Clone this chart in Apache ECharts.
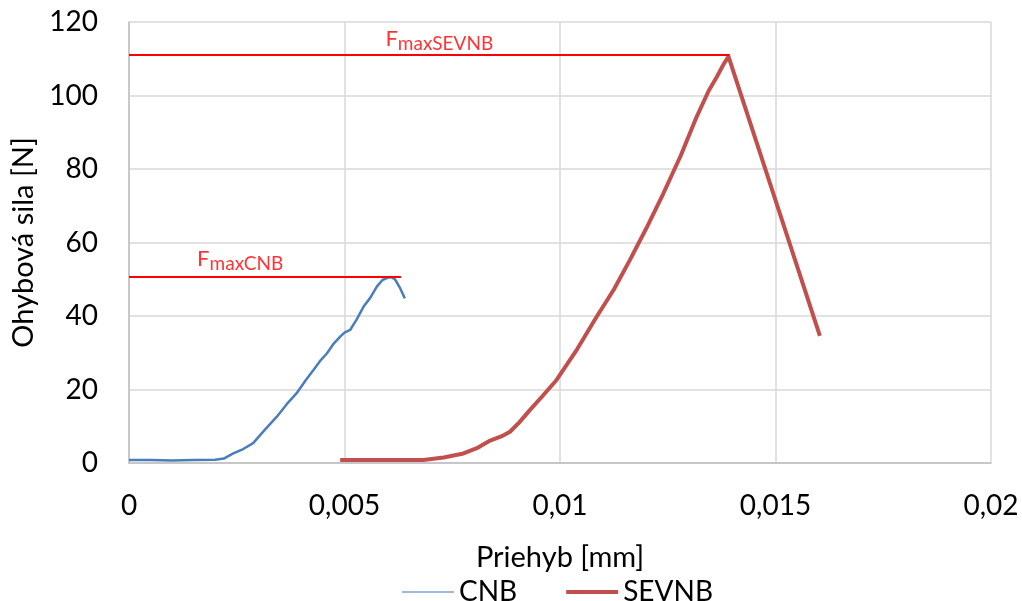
<!DOCTYPE html>
<html>
<head>
<meta charset="utf-8">
<script src="https://cdn.jsdelivr.net/npm/echarts@6/dist/echarts.min.js"></script>
<style>html,body{margin:0;padding:0;background:#fff}#c{width:1022px;height:601px}</style>
</head>
<body>
<div id="c"></div>
<script>
// Priehyb [mm] vs Ohybová sila [N]
const cnbX = [0, 0.0005, 0.0010, 0.0015, 0.0020, 0.00220, 0.00242, 0.00265, 0.00288, 0.00315, 0.00343, 0.00366, 0.00389, 0.00410, 0.00428, 0.00445, 0.00459, 0.00475, 0.00490, 0.00500, 0.00513, 0.00528, 0.00544, 0.00560, 0.00575, 0.00588, 0.00598, 0.00608, 0.00617, 0.00628, 0.00640];
const cnbY = [0.8, 0.8, 0.7, 0.8, 0.9, 1.2, 2.6, 3.8, 5.4, 9.0, 12.6, 16.0, 19.0, 22.5, 25.3, 28.0, 29.8, 32.5, 34.4, 35.5, 36.2, 39.0, 42.5, 45.0, 48.0, 49.8, 50.3, 50.6, 50.0, 47.8, 44.8];

const sevnbX = [0.00490, 0.00550, 0.00620, 0.00683, 0.00730, 0.00776, 0.00810, 0.00838, 0.00865, 0.00884, 0.00905, 0.00930, 0.00960, 0.00992, 0.01040, 0.01085, 0.01125, 0.01162, 0.01200, 0.01240, 0.01280, 0.01317, 0.01345, 0.01364, 0.01380, 0.01391, 0.01603];
const sevnbY = [0.8, 0.8, 0.8, 0.8, 1.5, 2.6, 4.2, 6.1, 7.3, 8.5, 11.0, 14.4, 18.3, 22.6, 31.0, 39.8, 47.2, 55.2, 63.8, 73.4, 83.6, 94.2, 101.3, 105.1, 108.6, 110.6, 34.6];

const fmaxCnbX = [0, 0.00631];
const fmaxCnbY = [50.6, 50.6];
const fmaxSevnbX = [0, 0.01394];
const fmaxSevnbY = [111.0, 111.0];

const labelNames = ['CNB', 'SEVNB'];
const labelX = [0.00258, 0.00720];
const labelY = [55.6, 115.4];

const xTicks = [0, 0.005, 0.01, 0.015, 0.02];
const yTicks = [0, 20, 40, 60, 80, 100, 120];

const zip = (xs, ys) => xs.map((x, i) => [x, ys[i]]);
const FONT = 'Lato';

const chart = echarts.init(document.getElementById('c'), null, {renderer: 'canvas'});
chart.setOption({
  animation: false,
  backgroundColor: '#fff',
  textStyle: {fontFamily: FONT},
  grid: {left: 129, right: 31, top: 22, bottom: 138, containLabel: false},
  xAxis: {
    type: 'value', min: xTicks[0], max: xTicks[xTicks.length - 1], interval: 0.005,
    name: 'Priehyb [mm]', nameLocation: 'middle', nameGap: 80,
    nameTextStyle: {fontFamily: FONT, fontSize: 29, color: '#000'},
    axisLine: {show: true, lineStyle: {color: '#BFBFBF', width: 1.5}},
    axisTick: {show: false},
    axisLabel: {fontFamily: FONT, fontSize: 28, color: '#000', margin: 29,
      formatter: v => String(+v.toFixed(4)).replace('.', ',')},
    splitLine: {show: true, lineStyle: {color: '#D9D9D9', width: 1.5}}
  },
  yAxis: {
    type: 'value', min: yTicks[0], max: yTicks[yTicks.length - 1], interval: 20,
    name: 'Ohybová sila [N]', nameLocation: 'middle', nameGap: 91,
    nameTextStyle: {fontFamily: FONT, fontSize: 29, color: '#000'},
    axisLine: {show: true, lineStyle: {color: '#BFBFBF', width: 1.5}},
    axisTick: {show: false},
    axisLabel: {fontFamily: FONT, fontSize: 28, color: '#000', margin: 31},
    splitLine: {show: true, lineStyle: {color: '#D9D9D9', width: 1.5}}
  },
  legend: {
    top: 573, left: 397,
    itemWidth: 52, itemHeight: 14, itemGap: 49,
    textStyle: {fontFamily: FONT, fontSize: 28, color: '#000'},
    data: [
      {name: 'CNB', icon: 'path://M0,6 L52,6 L52,8 L0,8 Z', itemStyle: {color: '#9DB9DE'}},
      {name: 'SEVNB', icon: 'path://M0,5 L52,5 L52,9 L0,9 Z', itemStyle: {color: '#C0504D'}}
    ]
  },
  series: [
    {
      name: 'CNB', type: 'line', data: zip(cnbX, cnbY), showSymbol: false, symbol: 'none',
      lineStyle: {color: '#4A7EBB', width: 2.5}, itemStyle: {color: '#4A7EBB'}, z: 3
    },
    {
      name: 'SEVNB', type: 'line', data: zip(sevnbX, sevnbY), showSymbol: false, symbol: 'none',
      lineStyle: {color: '#C0504D', width: 4}, itemStyle: {color: '#C0504D'}, z: 3
    },
    {
      name: 'FmaxCNB', type: 'line', data: zip(fmaxCnbX, fmaxCnbY), symbol: 'none',
      lineStyle: {color: '#FF0000', width: 2}, z: 4
    },
    {
      name: 'FmaxSEVNB', type: 'line', data: zip(fmaxSevnbX, fmaxSevnbY), symbol: 'none',
      lineStyle: {color: '#FF0000', width: 2}, z: 4
    },
    {
      name: 'labels', type: 'scatter', symbolSize: 0, z: 5,
      data: labelNames.map((n, i) => ({value: [labelX[i], labelY[i]], name: n})),
      label: {
        show: true, position: 'inside',
        formatter: p => '{f|F}{s|max' + p.name + '}',
        rich: {
          f: {fontFamily: FONT, fontSize: 22, color: '#FF0000'},
          s: {fontFamily: FONT, fontSize: 19, color: '#FF0000', padding: [10, 0, 0, 0]}
        }
      }
    }
  ]
});
</script>
</body>
</html>
